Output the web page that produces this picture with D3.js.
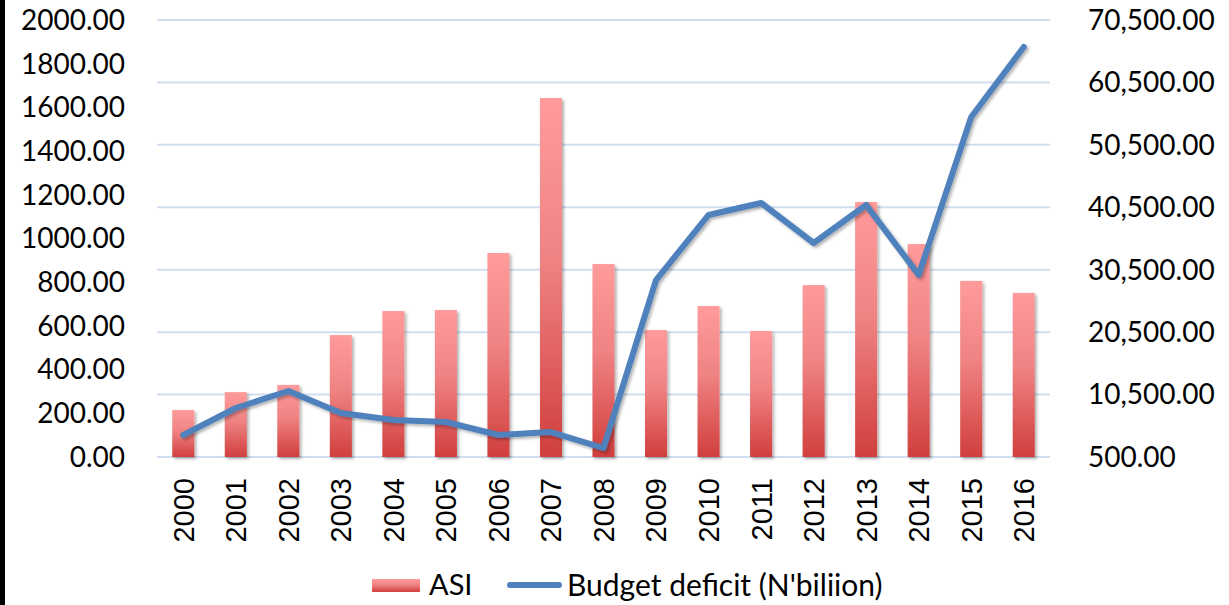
<!DOCTYPE html>
<html>
<head>
<meta charset="utf-8">
<script src="https://cdn.jsdelivr.net/npm/d3@7"></script>
<style>
  body { margin: 0; background: #fff; }
  svg { display: block; }
</style>
</head>
<body>
<div id="chart"></div>
<script>
var years = ["2000","2001","2002","2003","2004","2005","2006","2007","2008",
             "2009","2010","2011","2012","2013","2014","2015","2016"];
var asi = [215, 297, 330, 558, 668, 673, 934, 1643, 883,
           581, 691, 577, 787, 1167, 975, 806, 751];
var deficit = [4020, 8350, 11070, 7550, 6430, 6110, 4020, 4500, 1940,
               28850, 39270, 41190, 34780, 40870, 29660, 54970, 66180];
var leftTicks = [0, 200, 400, 600, 800, 1000, 1200, 1400, 1600, 1800, 2000];
var rightTicks = [500, 10500, 20500, 30500, 40500, 50500, 60500, 70500];

var width = 1229, height = 605;
var svg = d3.select("#chart").append("svg")
    .attr("width", width)
    .attr("height", height);

var defs = svg.append("defs");
var grad = defs.append("linearGradient")
    .attr("id", "barGrad")
    .attr("x1", 0).attr("y1", 0).attr("x2", 0).attr("y2", 1);
grad.append("stop").attr("offset", "0%").attr("stop-color", "#ff9b9b");
grad.append("stop").attr("offset", "45%").attr("stop-color", "#f08383");
grad.append("stop").attr("offset", "100%").attr("stop-color", "#d03f3d");

var shadow = defs.append("filter").attr("id", "shadow")
    .attr("x", "-30%").attr("y", "-30%").attr("width", "160%").attr("height", "160%");
shadow.append("feDropShadow")
    .attr("dx", 2).attr("dy", 2).attr("stdDeviation", 1.8)
    .attr("flood-color", "#000").attr("flood-opacity", 0.3);

// left border stripe
svg.append("rect").attr("x", 0).attr("y", 0).attr("width", 5).attr("height", height).attr("fill", "#000");

var x = d3.scaleBand()
    .domain(years)
    .range([157, 1050])
    .paddingInner(0.58)
    .paddingOuter(0.29);

var yLeft = d3.scaleLinear().domain([0, 2000]).range([457, 20]);
var yRight = d3.scaleLinear().domain([500, 70500]).range([457, 20]);

// gridlines (from right axis)
svg.append("g").selectAll("line")
    .data(rightTicks)
  .enter().append("line")
    .attr("x1", 157).attr("x2", 1050)
    .attr("y1", function(d) { return yRight(d); })
    .attr("y2", function(d) { return yRight(d); })
    .attr("stroke", "#d0def0")
    .attr("stroke-width", 2);

// bars
svg.append("g").selectAll("rect")
    .data(asi)
  .enter().append("rect")
    .attr("x", function(d, i) { return x(years[i]); })
    .attr("y", function(d) { return yLeft(d); })
    .attr("width", x.bandwidth())
    .attr("height", function(d) { return yLeft(0) - yLeft(d); })
    .attr("fill", "url(#barGrad)")
    .attr("filter", "url(#shadow)");

// line
var line = d3.line()
    .x(function(d, i) { return x(years[i]) + x.bandwidth() / 2; })
    .y(function(d) { return yRight(d); });

svg.append("path")
    .datum(deficit)
    .attr("d", line)
    .attr("fill", "none")
    .attr("stroke", "#4f81bd")
    .attr("stroke-width", 6)
    .attr("stroke-linejoin", "round")
    .attr("stroke-linecap", "round")
    .attr("filter", "url(#shadow)");

// left axis labels
var fmtL = d3.format(".2f");
svg.append("g").selectAll("text")
    .data(leftTicks)
  .enter().append("text")
    .attr("x", 125)
    .attr("y", function(d) { return yLeft(d); })
    .attr("dy", "0.35em")
    .attr("text-anchor", "end")
    .style("font-family", "Lato, 'Open Sans', sans-serif")
    .style("font-size", "28px")
    .attr("fill", "#000")
    .text(function(d) { return fmtL(d); });

// right axis labels
var fmtR = d3.format(",.2f");
svg.append("g").selectAll("text")
    .data(rightTicks)
  .enter().append("text")
    .attr("x", 1088)
    .attr("y", function(d) { return yRight(d); })
    .attr("dy", "0.35em")
    .attr("text-anchor", "start")
    .style("font-family", "Lato, 'Open Sans', sans-serif")
    .style("font-size", "28px")
    .attr("fill", "#000")
    .text(function(d) { return fmtR(d); });

// x labels, rotated
svg.append("g").selectAll("text")
    .data(years)
  .enter().append("text")
    .attr("transform", function(d) {
      return "translate(" + (x(d) + x.bandwidth() / 2) + ",478) rotate(-90)";
    })
    .attr("dy", "0.36em")
    .attr("text-anchor", "end")
    .style("font-family", "'Liberation Sans', Arial, sans-serif")
    .style("font-size", "29px")
    .attr("fill", "#000")
    .text(function(d) { return d; });

// legend
var legend = svg.append("g");
legend.append("rect")
    .attr("x", 372).attr("y", 579).attr("width", 48).attr("height", 13)
    .attr("fill", "url(#barGrad)");
legend.append("text")
    .attr("x", 429).attr("y", 585).attr("dy", "0.35em")
    .style("font-family", "Lato, 'Open Sans', sans-serif")
    .style("font-size", "29px")
    .text("ASI");
legend.append("line")
    .attr("x1", 510).attr("x2", 559).attr("y1", 585).attr("y2", 585)
    .attr("stroke", "#4f81bd").attr("stroke-width", 6)
    .attr("stroke-linecap", "round");
legend.append("text")
    .attr("x", 567).attr("y", 585).attr("dy", "0.35em")
    .style("font-family", "Lato, 'Open Sans', sans-serif")
    .style("font-size", "30px")
    .text("Budget deficit (N'biliion)");
</script>
</body>
</html>
